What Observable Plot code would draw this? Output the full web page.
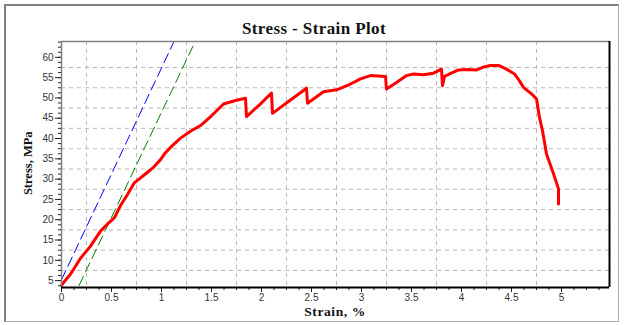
<!DOCTYPE html>
<html>
<head>
<meta charset="utf-8">
<script src="https://cdn.jsdelivr.net/npm/d3@7"></script>
<script src="https://cdn.jsdelivr.net/npm/@observablehq/plot@0.6"></script>
<style>
  html, body { margin: 0; padding: 0; background: #fff; }
  #wrap { position: relative; width: 625px; height: 325px; overflow: hidden; background: #fff; }
  #border { position: absolute; left: 4px; top: 4px; width: 615px; height: 318px;
            border-left: 2px solid #808080; border-top: 2px solid #808080;
            border-right: 1px solid #b0b0b0; border-bottom: 1px solid #b0b0b0; box-sizing: border-box; }
  #chart { position: absolute; left: 0; top: 0; }
  .ttl { position: absolute; font-family: "Liberation Serif", "Times New Roman", serif; font-weight: bold; color: #111; white-space: nowrap; line-height: 1; }
  #title { font-size: 17px; letter-spacing: 0.4px; left: 0; width: 628px; text-align: center; top: 20px; }
  #xlab { font-size: 13.5px; letter-spacing: 0.6px; left: 61px; width: 548px; text-align: center; top: 305px; }
  #ylab { font-size: 12.5px; width: 120px; text-align: center; left: -32px; top: 157px; transform: rotate(-90deg); }
</style>
</head>
<body>
<div id="wrap">
  <div id="border"></div>
  <div id="chart"></div>
  <div class="ttl" id="title">Stress - Strain Plot</div>
  <div class="ttl" id="xlab">Strain, %</div>
  <div class="ttl" id="ylab">Stress, MPa</div>
</div>
<script>
// Measured curve (strain %, stress MPa)
const strain = [0, 0.02, 0.093, 0.19, 0.29, 0.39, 0.475, 0.53, 0.59, 0.66, 0.725, 0.8, 0.86, 0.92, 0.99, 1.04, 1.09, 1.19, 1.29, 1.39, 1.5, 1.62, 1.73, 1.84, 1.85, 1.98, 2.1, 2.11, 2.28, 2.45, 2.46, 2.62, 2.75, 2.88, 2.99, 3.09, 3.24, 3.25, 3.35, 3.45, 3.52, 3.62, 3.72, 3.8, 3.81, 3.83, 3.88, 3.97, 4.06, 4.15, 4.22, 4.29, 4.37, 4.45, 4.53, 4.58, 4.62, 4.7, 4.75, 4.78, 4.81, 4.85, 4.92, 4.97, 4.97];
const stress = [3.8, 4.5, 6.7, 10.5, 13.5, 17.2, 19.3, 20.5, 23.5, 26.2, 29.0, 30.5, 31.7, 32.9, 34.8, 36.5, 37.8, 40.1, 41.8, 43.2, 45.6, 48.5, 49.3, 49.9, 45.4, 48.3, 51.2, 46.2, 49.3, 52.4, 48.7, 51.5, 52.0, 53.3, 54.7, 55.5, 55.3, 52.2, 53.8, 55.5, 55.9, 55.7, 56.1, 57.1, 53.0, 55.3, 55.9, 56.9, 57.0, 56.9, 57.6, 58.0, 58.0, 57.1, 55.9, 54.2, 52.6, 51.0, 49.8, 45.2, 41.9, 36.2, 31.3, 27.6, 23.9];
// Elastic reference lines (dashed)
const blueStrain = [0, 1.125];
const blueStress = [5.2, 63.9];
const greenStrain = [0.176, 1.337];
const greenStress = [3.8, 63.9];
// Axis ticks and grid
const xDomain = [0, 5.48];
const yDomain = [3.3, 63.9];
const xTicks = [0, 0.5, 1, 1.5, 2, 2.5, 3, 3.5, 4, 4.5, 5];
const xTickLabels = ["0", "0.5", "1", "1.5", "2", "2.5", "3", "3.5", "4", "4.5", "5"];
const yTicks = [5, 10, 15, 20, 25, 30, 35, 40, 45, 50, 55, 60];
const xGrid = [0.25, 0.75, 1.25, 1.75, 2.25, 2.75, 3.25, 3.75, 4.25, 4.75];
const yGrid = [7.5, 12.5, 17.5, 22.5, 27.5, 32.5, 37.5, 42.5, 47.5, 52.5, 57.5];
const xMinor = d3.range(0, 5.48, 0.125);
const yMinor = d3.range(3.75, 63.9, 1.25);

const curve = strain.map((s, i) => ({x: s, y: stress[i]}));
const blue = blueStrain.map((s, i) => ({x: s, y: blueStress[i]}));
const green = greenStrain.map((s, i) => ({x: s, y: greenStress[i]}));

const gridStyle = {stroke: "#b8b8b8", strokeOpacity: 1, strokeWidth: 1, strokeDasharray: "4,4"};

const chart = Plot.plot({
  width: 625,
  height: 325,
  marginLeft: 61,
  marginRight: 16,
  marginTop: 41,
  marginBottom: 38,
  style: {fontFamily: "'Liberation Sans', Arial, sans-serif", fontSize: "10px", color: "#333", background: "transparent"},
  x: {domain: xDomain},
  y: {domain: yDomain},
  marks: [
    Plot.ruleX(xGrid, gridStyle),
    Plot.ruleY(yGrid, gridStyle),
    Plot.axisX({ticks: xMinor, tickSize: 3, tickFormat: () => "", label: null, stroke: "#222"}),
    Plot.axisX({ticks: xTicks, tickSize: 5, tickPadding: 1, tickFormat: d => xTickLabels[xTicks.indexOf(d)], label: null, stroke: "#222"}),
    Plot.axisY({ticks: yMinor, tickSize: 3, tickFormat: () => "", label: null, stroke: "#222"}),
    Plot.axisY({ticks: yTicks, tickSize: 6, tickPadding: 2, label: null, stroke: "#222"}),
    Plot.line(blue, {x: "x", y: "y", stroke: "#0000ff", strokeWidth: 1, strokeDasharray: "10,5"}),
    Plot.line(green, {x: "x", y: "y", stroke: "#008000", strokeWidth: 1, strokeDasharray: "10,5"}),
    Plot.line(curve, {x: "x", y: "y", stroke: "#ff0000", strokeWidth: 3, strokeLinejoin: "round"}),
    Plot.ruleX([xDomain[0]], {stroke: "#808080", strokeWidth: 1.5}),
    Plot.ruleY([yDomain[1]], {stroke: "#808080", strokeWidth: 1.5}),
    Plot.ruleX([xDomain[1]], {stroke: "#000", strokeWidth: 2}),
    Plot.ruleY([yDomain[0]], {stroke: "#000", strokeWidth: 2})
  ]
});
document.getElementById("chart").appendChild(chart);
</script>
</body>
</html>
